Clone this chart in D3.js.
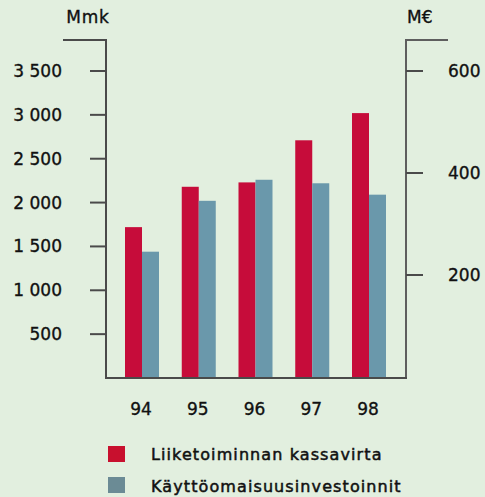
<!DOCTYPE html>
<html>
<head>
<meta charset="utf-8">
<script src="https://cdn.jsdelivr.net/npm/d3@7/dist/d3.min.js"></script>
<style>
  html, body { margin: 0; padding: 0; background: #e2efdf; }
  svg { display: block; }
  text { font-family: "DejaVu Sans", sans-serif; fill: #111; stroke: #111; stroke-width: 0.35px; }
</style>
</head>
<body>
<div id="chart"></div>
<script>
var years = ['94', '95', '96', '97', '98'];
var cashFlow = [1720, 2180, 2230, 2710, 3020];     // Liiketoiminnan kassavirta, Mmk
var investments = [1440, 2020, 2260, 2220, 2090];  // Käyttöomaisuusinvestoinnit, Mmk
var leftTicks = [500, 1000, 1500, 2000, 2500, 3000, 3500];
var rightTicks = [200, 400, 600];
var seriesNames = ['Liiketoiminnan kassavirta', 'Käyttöomaisuusinvestoinnit'];
var seriesColors = ['#c60c3a', '#6a98ab'];
var legendColors = ['#c8102e', '#6b8b95'];

var width = 485, height = 497;
var axisColor = '#4a4a4a';

var svg = d3.select('#chart').append('svg')
  .attr('width', width)
  .attr('height', height);

var x = d3.scalePoint().domain(years).range([142, 369]);
var yLeft = d3.scaleLinear().domain([0, 3500]).range([378, 71]);
var yRight = d3.scaleLinear().domain([0, 600]).range([377, 71]);
var barW = 17;

// bars
var series = [cashFlow, investments];
series.forEach(function(vals, s) {
  svg.append('g').selectAll('rect')
    .data(vals)
    .enter()
    .append('rect')
    .attr('x', function(d, i) { return x(years[i]) - barW + s * barW; })
    .attr('y', function(d) { return yLeft(d); })
    .attr('width', barW)
    .attr('height', function(d) { return yLeft(0) - yLeft(d); })
    .attr('fill', seriesColors[s]);
});

// left axis
var left = svg.append('g');
left.append('path')
  .attr('d', 'M63,40H106V378')
  .attr('fill', 'none').attr('stroke', axisColor).attr('stroke-width', 2);
left.selectAll('line').data(leftTicks).enter().append('line')
  .attr('x1', 90).attr('x2', 106)
  .attr('y1', function(d) { return yLeft(d); })
  .attr('y2', function(d) { return yLeft(d); })
  .attr('stroke', axisColor).attr('stroke-width', 2);
left.selectAll('text').data(leftTicks).enter().append('text')
  .attr('x', 62)
  .attr('y', function(d) { return yLeft(d) + 6; })
  .attr('text-anchor', 'end')
  .style('font-size', '17px')
  .text(function(d) { return d3.format(',')(d).replace(',', ' '); });
svg.append('text').attr('x', 88).attr('y', 23)
  .attr('text-anchor', 'middle').style('font-size', '17px')
  .style('letter-spacing', '0.8px').text('Mmk');

// right axis
var right = svg.append('g');
right.append('path')
  .attr('d', 'M448,40H406V378')
  .attr('fill', 'none').attr('stroke', '#5e5e5e').attr('stroke-width', 2);
right.selectAll('line').data(rightTicks).enter().append('line')
  .attr('x1', 406).attr('x2', 423)
  .attr('y1', function(d) { return yRight(d); })
  .attr('y2', function(d) { return yRight(d); })
  .attr('stroke', axisColor).attr('stroke-width', 2);
right.selectAll('text').data(rightTicks).enter().append('text')
  .attr('x', 448)
  .attr('y', function(d) { return yRight(d) + 6; })
  .style('font-size', '17px')
  .text(function(d) { return d; });
svg.append('text').attr('x', 407).attr('y', 23)
  .style('font-size', '17px').text('M€');

// baseline
svg.append('line')
  .attr('x1', 105).attr('x2', 407)
  .attr('y1', yLeft(0)).attr('y2', yLeft(0))
  .attr('stroke', axisColor).attr('stroke-width', 2);

// year labels
svg.append('g').selectAll('text').data(years).enter().append('text')
  .attr('x', function(d) { return x(d) - 1; })
  .attr('y', 415)
  .attr('text-anchor', 'middle')
  .style('font-size', '17px')
  .text(function(d) { return d; });

// legend
var legend = svg.append('g');
seriesNames.forEach(function(name, i) {
  legend.append('rect')
    .attr('x', 108).attr('y', 446 + i * 31)
    .attr('width', 17).attr('height', 16)
    .attr('fill', legendColors[i]);
  legend.append('text')
    .attr('x', 151).attr('y', 460 + i * 32)
    .style('font-size', '16px')
    .style('letter-spacing', '1.1px')
    .style('stroke-width', '0.5px')
    .text(name);
});
</script>
</body>
</html>
